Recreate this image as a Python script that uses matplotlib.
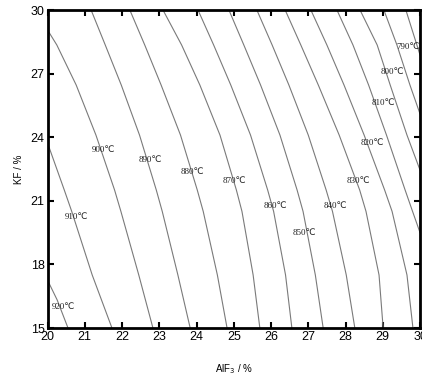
import matplotlib
matplotlib.use("Agg")
import matplotlib.pyplot as plt

# iso-temperature lines, points (AlF3 %, KF %)
t920_x = [20.0, 20.26, 20.55]
t920_y = [17.26, 16.32, 15.0]

t910_x = [20.0, 20.45, 20.65, 21.20, 21.73]
t910_y = [23.73, 21.51, 20.5, 17.5, 15.0]

t900_x = [20.0, 20.25, 20.77, 21.30, 21.80, 21.97, 22.45, 22.83]
t900_y = [29.06, 28.35, 26.46, 24.10, 21.51, 20.5, 17.5, 15.0]

t890_x = [21.17, 21.55, 21.98, 22.47, 22.92, 23.08, 23.50, 23.83]
t880_x = [22.21, 22.61, 23.05, 23.57, 24.02, 24.18, 24.56, 24.82]
t870_x = [23.10, 23.60, 24.09, 24.63, 25.07, 25.22, 25.52, 25.70]
t860_x = [24.04, 24.46, 24.92, 25.45, 25.91, 26.07, 26.39, 26.56]
t850_x = [24.87, 25.27, 25.72, 26.24, 26.70, 26.86, 27.19, 27.40]
t840_x = [25.62, 26.03, 26.48, 27.00, 27.48, 27.65, 28.02, 28.25]
t830_x = [26.38, 26.80, 27.27, 27.83, 28.38, 28.55, 28.90, 29.01]
t820_x = [27.07, 27.50, 27.96, 28.50, 29.05, 29.25, 29.65, 29.81]
full_y = [30.0, 28.35, 26.46, 24.10, 21.51, 20.5, 17.5, 15.0]

t810_x = [27.77, 28.20, 28.62, 29.10, 29.60, 29.80, 30.0]
t810_y = [30.0, 28.35, 26.46, 24.10, 21.51, 20.5, 19.5]

t800_x = [28.39, 28.85, 29.20, 29.65, 30.0]
t800_y = [30.0, 28.35, 26.46, 24.10, 22.45]

t790_x = [29.03, 29.38, 29.73, 30.0]
t790_y = [30.0, 28.35, 26.46, 25.1]

t780_x = [29.62, 30.0]
t780_y = [30.0, 27.88]

# label texts and where they sit
label_text = ["920℃", "910℃", "900℃", "890℃", "880℃", "870℃", "860℃",
              "850℃", "840℃", "830℃", "820℃", "810℃", "800℃", "790℃"]
label_x = [20.42, 20.79, 21.49, 22.75, 23.88, 25.03, 26.11,
           26.91, 27.72, 28.34, 28.71, 29.01, 29.26, 29.69]
label_y = [15.99, 20.24, 23.40, 22.92, 22.36, 21.93, 20.75,
           19.48, 20.75, 21.93, 23.73, 25.61, 27.08, 28.25]

lines = [
    (t920_x, t920_y), (t910_x, t910_y), (t900_x, t900_y),
    (t890_x, full_y), (t880_x, full_y), (t870_x, full_y),
    (t860_x, full_y), (t850_x, full_y), (t840_x, full_y),
    (t830_x, full_y), (t820_x, full_y), (t810_x, t810_y),
    (t800_x, t800_y), (t790_x, t790_y), (t780_x, t780_y),
]

fig = plt.figure(figsize=(4.22, 3.75), dpi=100)
ax = fig.add_axes([0.1126, 0.1253, 0.8827, 0.848])

for xs, ys in lines:
    ax.plot(xs, ys, color="#7a7a7a", linewidth=0.8)

for txt, x, y in zip(label_text, label_x, label_y):
    ax.text(x, y, txt, fontsize=6.5, ha="center", va="center",
            family=["Liberation Serif", "DejaVu Sans"], color="#222222")

ax.set_xlim(20, 30)
ax.set_ylim(15, 30)
ax.set_xticks(range(20, 31))
ax.set_yticks([15, 18, 21, 24, 27, 30])
ax.tick_params(direction="in", top=True, right=True, length=4, width=1.5,
               labelsize=9, pad=2)
for lab in ax.get_xticklabels() + ax.get_yticklabels():
    lab.set_family("Liberation Sans")
for sp in ax.spines.values():
    sp.set_linewidth(2)

ax.set_xlabel("AlF$_3$ / %", fontsize=7, family="Liberation Sans", labelpad=14)
ax.set_ylabel("KF / %", fontsize=7, family="Liberation Sans", labelpad=5)

fig.savefig("out.png", dpi=100)
